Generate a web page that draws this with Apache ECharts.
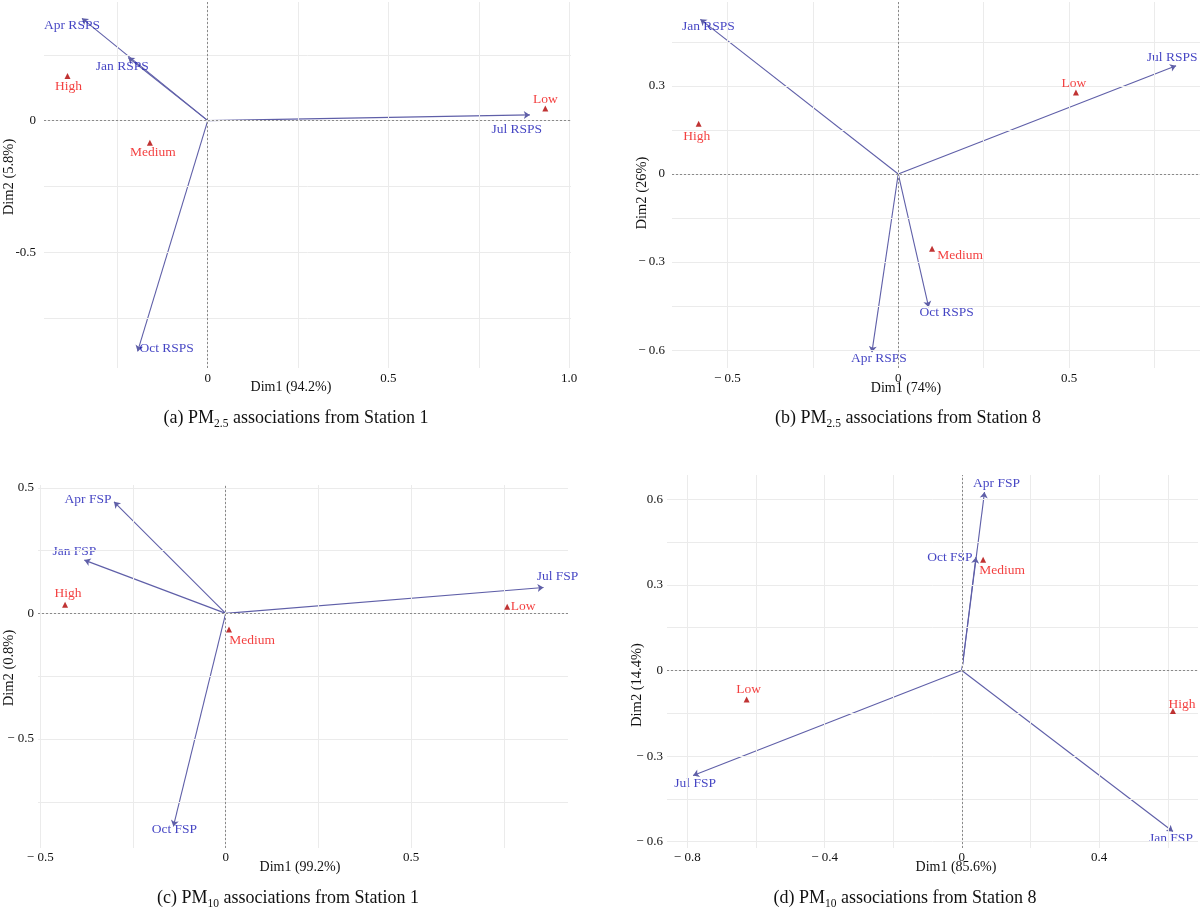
<!DOCTYPE html>
<html><head><meta charset="utf-8">
<script src="https://cdn.jsdelivr.net/npm/echarts@6/dist/echarts.min.js"></script>
<style>html,body{margin:0;padding:0;background:#fff}#c{width:1200px;height:911px}</style>
</head><body><div id="c"></div>
<script>
// ---------- Panel (a): PM2.5 Station 1 ----------
const aVarNames = ['Apr RSPS', 'Jan RSPS', 'Jul RSPS', 'Oct RSPS'];
const aVarX = [-0.348, -0.220, 0.891, -0.194];
const aVarY = [0.389, 0.240, 0.022, -0.877];
const aRowNames = ['High', 'Medium', 'Low'];
const aRowX = [-0.388, -0.160, 0.934];
const aRowY = [0.170, -0.084, 0.046];
const aXTicks = [0, 0.5, 1.0];
const aXTickLabels = ['0', '0.5', '1.0'];
const aYTicks = [0, -0.5];
const aYTickLabels = ['0', '-0.5'];
const aXGrid = [-0.25, 0, 0.25, 0.5, 0.75, 1.0];
const aYGrid = [0.25, 0, -0.25, -0.5, -0.75];
const aXTitle = 'Dim1 (94.2%)';
const aYTitle = 'Dim2 (5.8%)';

// ---------- Panel (b): PM2.5 Station 8 ----------
const bVarNames = ['Jan RSPS', 'Jul RSPS', 'Oct RSPS', 'Apr RSPS'];
const bVarX = [-0.579, 0.813, 0.089, -0.077];
const bVarY = [0.527, 0.369, -0.454, -0.607];
const bRowNames = ['High', 'Low', 'Medium'];
const bRowX = [-0.584, 0.520, 0.099];
const bRowY = [0.171, 0.278, -0.255];
const bXTicks = [-0.5, 0, 0.5];
const bXTickLabels = ['\u2212 0.5', '0', '0.5'];
const bYTicks = [0.3, 0, -0.3, -0.6];
const bYTickLabels = ['0.3', '0', '\u2212 0.3', '\u2212 0.6'];
const bXGrid = [-0.5, -0.25, 0, 0.25, 0.5, 0.75];
const bYGrid = [0.45, 0.3, 0.15, 0, -0.15, -0.3, -0.45, -0.6];
const bXTitle = 'Dim1 (74%)';
const bYTitle = 'Dim2 (26%)';

// ---------- Panel (c): PM10 Station 1 ----------
const cVarNames = ['Apr FSP', 'Jan FSP', 'Jul FSP', 'Oct FSP'];
const cVarX = [-0.301, -0.381, 0.857, -0.141];
const cVarY = [0.444, 0.212, 0.103, -0.848];
const cRowNames = ['High', 'Low', 'Medium'];
const cRowX = [-0.433, 0.759, 0.009];
const cRowY = [0.034, 0.026, -0.064];
const cXTicks = [-0.5, 0, 0.5];
const cXTickLabels = ['\u2212 0.5', '0', '0.5'];
const cYTicks = [0.5, 0, -0.5];
const cYTickLabels = ['0.5', '0', '\u2212 0.5'];
const cXGrid = [-0.5, -0.25, 0, 0.25, 0.5, 0.75];
const cYGrid = [0.5, 0.25, 0, -0.25, -0.5, -0.75];
const cXTitle = 'Dim1 (99.2%)';
const cYTitle = 'Dim2 (0.8%)';

// ---------- Panel (d): PM10 Station 8 ----------
const dVarNames = ['Apr FSP', 'Oct FSP', 'Jul FSP', 'Jan FSP'];
const dVarX = [0.066, 0.041, -0.783, 0.615];
const dVarY = [0.625, 0.397, -0.368, -0.564];
const dRowNames = ['Medium', 'Low', 'High'];
const dRowX = [0.062, -0.627, 0.615];
const dRowY = [0.388, -0.102, -0.142];
const dXTicks = [-0.8, -0.4, 0, 0.4];
const dXTickLabels = ['\u2212 0.8', '\u2212 0.4', '0', '0.4'];
const dYTicks = [0.6, 0.3, 0, -0.3, -0.6];
const dYTickLabels = ['0.6', '0.3', '0', '\u2212 0.3', '\u2212 0.6'];
const dXGrid = [-0.8, -0.6, -0.4, -0.2, 0, 0.2, 0.4, 0.6];
const dYGrid = [0.6, 0.45, 0.3, 0.15, 0, -0.15, -0.3, -0.45, -0.6];
const dXTitle = 'Dim1 (85.6%)';
const dYTitle = 'Dim2 (14.4%)';

// Captions (rich text: {s|...} = subscript)
const captions = [
  '(a) PM{s|2.5} associations from Station 1',
  '(b) PM{s|2.5} associations from Station 8',
  '(c) PM{s|10} associations from Station 1',
  '(d) PM{s|10} associations from Station 8'
];

// ---------- layout / style (not data) ----------
const FONT = '"Liberation Serif", "DejaVu Serif", serif';
const layouts = [
  { grid: {left: 44, top: 2, width: 527, height: 366}, x: [-0.453, 1.005], y: [-0.940, 0.451],
    xt: [291, 387], yt: [9, 177], cap: [296, 418], yMargin: 8, xMargin: 4,
    varOff: [[-10, 7], [-6, 9], [-13, 15], [29, -3]],
    rowOff: [[1, 11], [3, 10], [0, -9]] },
  { grid: {left: 672, top: 2, width: 528, height: 366}, x: [-0.662, 0.883], y: [-0.661, 0.586],
    xt: [906, 388], yt: [642, 193], cap: [908, 418], yMargin: 7, xMargin: 4,
    varOff: [[8, 7], [-4, -8], [18, 5], [7, 6]],
    rowOff: [[-2, 13], [-2, -9], [28, 7]] },
  { grid: {left: 38, top: 485, width: 530, height: 363}, x: [-0.506, 0.923], y: [-0.934, 0.511],
    xt: [300, 867], yt: [9, 668], cap: [288, 898], yMargin: 4, xMargin: 3,
    varOff: [[-26, -2], [-10, -9], [14, -11], [1, 3]],
    rowOff: [[3, -11], [16, 0], [23, 11]] },
  { grid: {left: 667, top: 475, width: 531, height: 373}, x: [-0.859, 0.688], y: [-0.622, 0.685],
    xt: [956, 867], yt: [637, 685], cap: [905, 898], yMargin: 4, xMargin: 3,
    varOff: [[12, -9], [-26, 0], [2, 8], [-2, 7]],
    rowOff: [[19, 11], [2, -10], [9, -7]] }
];

const panels = [
  {vn: aVarNames, vx: aVarX, vy: aVarY, rn: aRowNames, rx: aRowX, ry: aRowY, xT: aXTicks, xL: aXTickLabels, yT: aYTicks, yL: aYTickLabels, xG: aXGrid, yG: aYGrid, xTitle: aXTitle, yTitle: aYTitle},
  {vn: bVarNames, vx: bVarX, vy: bVarY, rn: bRowNames, rx: bRowX, ry: bRowY, xT: bXTicks, xL: bXTickLabels, yT: bYTicks, yL: bYTickLabels, xG: bXGrid, yG: bYGrid, xTitle: bXTitle, yTitle: bYTitle},
  {vn: cVarNames, vx: cVarX, vy: cVarY, rn: cRowNames, rx: cRowX, ry: cRowY, xT: cXTicks, xL: cXTickLabels, yT: cYTicks, yL: cYTickLabels, xG: cXGrid, yG: cYGrid, xTitle: cXTitle, yTitle: cYTitle},
  {vn: dVarNames, vx: dVarX, vy: dVarY, rn: dRowNames, rx: dRowX, ry: dRowY, xT: dXTicks, xL: dXTickLabels, yT: dYTicks, yL: dYTickLabels, xG: dXGrid, yG: dYGrid, xTitle: dXTitle, yTitle: dYTitle}
];

function labelFor(ticks, labels) {
  return function (v) {
    for (let i = 0; i < ticks.length; i++) if (Math.abs(ticks[i] - v) < 1e-9) return labels[i];
    return '';
  };
}

const grids = [], xAxes = [], yAxes = [], series = [], graphics = [];
panels.forEach((p, i) => {
  const L = layouts[i];
  grids.push(Object.assign({containLabel: false}, L.grid));
  xAxes.push({
    type: 'value', gridIndex: i, min: L.x[0], max: L.x[1],
    axisLine: {show: false}, axisTick: {show: false}, splitLine: {show: false},
    axisLabel: {customValues: p.xT, formatter: labelFor(p.xT, p.xL), margin: L.xMargin,
      fontFamily: FONT, fontSize: 13, color: '#111', showMinLabel: true, showMaxLabel: true}
  });
  yAxes.push({
    type: 'value', gridIndex: i, min: L.y[0], max: L.y[1],
    axisLine: {show: false},
    axisTick: {show: i > 0, customValues: p.yT, length: 2, lineStyle: {color: '#555', width: 1}},
    splitLine: {show: false},
    axisLabel: {customValues: p.yT, formatter: labelFor(p.yT, p.yL), margin: L.yMargin,
      fontFamily: FONT, fontSize: 13, color: '#111', showMinLabel: true, showMaxLabel: true}
  });
  // background grid lines
  series.push({
    type: 'line', xAxisIndex: i, yAxisIndex: i, data: [], silent: true, z: 1,
    markLine: {silent: true, symbol: ['none', 'none'], label: {show: false}, animation: false,
      lineStyle: {color: '#ebebeb', width: 1, type: 'solid'},
      data: p.xG.map(v => ({xAxis: v})).concat(p.yG.map(v => ({yAxis: v})))}
  });
  // dashed zero lines
  series.push({
    type: 'line', xAxisIndex: i, yAxisIndex: i, data: [], silent: true, z: 2,
    markLine: {silent: true, symbol: ['none', 'none'], label: {show: false}, animation: false,
      lineStyle: {color: '#8a8a8a', width: 1, type: [2, 2]},
      data: [{xAxis: 0}, {yAxis: 0}]}
  });
  // arrows
  series.push({
    type: 'lines', coordinateSystem: 'cartesian2d', xAxisIndex: i, yAxisIndex: i, z: 3,
    symbol: ['none', 'arrow'], symbolSize: 6, animation: false,
    lineStyle: {color: '#5f5fa8', width: 1.1, opacity: 1, curveness: 0},
    data: p.vn.map((n, k) => ({coords: [[0, 0], [p.vx[k], p.vy[k]]]}))
  });
  // variable labels (invisible anchor at arrow tip)
  series.push({
    type: 'scatter', xAxisIndex: i, yAxisIndex: i, z: 4, symbolSize: 1, animation: false,
    itemStyle: {color: 'rgba(0,0,0,0)'},
    label: {show: true, position: 'inside', formatter: '{b}', color: '#1414b4',
      fontFamily: FONT, fontSize: 13.5},
    data: p.vn.map((n, k) => ({name: n, value: [p.vx[k], p.vy[k]], label: {offset: L.varOff[k]}}))
  });
  // row points
  series.push({
    type: 'scatter', xAxisIndex: i, yAxisIndex: i, z: 5, symbol: 'triangle', symbolSize: 6, animation: false,
    itemStyle: {color: '#b00000'},
    label: {show: true, position: 'inside', formatter: '{b}', color: '#f01010',
      fontFamily: FONT, fontSize: 13.5},
    data: p.rn.map((n, k) => ({name: n, value: [p.rx[k], p.ry[k]], label: {offset: L.rowOff[k]}}))
  });
  // axis titles
  graphics.push({type: 'text', x: L.xt[0], y: L.xt[1], silent: true,
    style: {text: p.xTitle, fill: '#111', font: '14px ' + FONT, align: 'center', verticalAlign: 'middle'}});
  graphics.push({type: 'text', x: L.yt[0], y: L.yt[1], rotation: Math.PI / 2, silent: true,
    style: {text: p.yTitle, fill: '#111', font: '14.5px ' + FONT, align: 'center', verticalAlign: 'middle'}});
  // caption
  graphics.push({type: 'text', x: L.cap[0], y: L.cap[1], silent: true,
    style: {text: captions[i], fill: '#111', fontFamily: FONT, fontSize: 18, align: 'center', verticalAlign: 'middle',
      lineHeight: 24,
      rich: {s: {fontFamily: FONT, fontSize: 11.5, fill: '#111', verticalAlign: 'bottom', lineHeight: 24}}}});
});

const chart = echarts.init(document.getElementById('c'), null, {renderer: 'canvas'});
chart.setOption({
  backgroundColor: '#ffffff',
  animation: false,
  grid: grids, xAxis: xAxes, yAxis: yAxes, series: series,
  graphic: {elements: graphics}
});
</script>
</body></html>
